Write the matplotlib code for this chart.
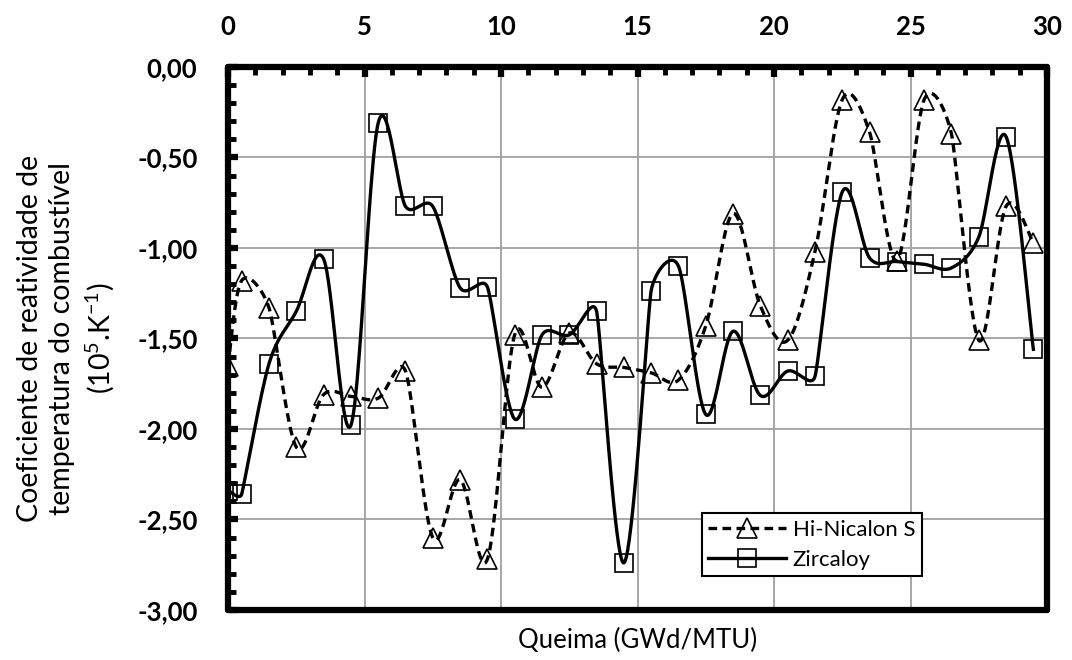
import numpy as np
import matplotlib.pyplot as plt
from matplotlib.ticker import MultipleLocator, FuncFormatter

# burnup (GWd/MTU)
burnup = [0, 0.5, 1.5, 2.5, 3.5, 4.5, 5.5, 6.5, 7.5, 8.5, 9.5, 10.5, 11.5, 12.5, 13.5,
          14.5, 15.5, 16.5, 17.5, 18.5, 19.5, 20.5, 21.5, 22.5, 23.5, 24.5, 25.5,
          26.5, 27.5, 28.5, 29.5]

hi_nicalon = [-1.65, -1.18, -1.33, -2.10, -1.81, -1.82, -1.83, -1.68, -2.60, -2.28,
              -2.72, -1.48, -1.77, -1.47, -1.64, -1.66, -1.69, -1.73, -1.43, -0.81,
              -1.32, -1.51, -1.02, -0.18, -0.36, -1.07, -0.18, -0.37, -1.51, -0.77,
              -0.97]

zircaloy = [-2.34, -2.36, -1.64, -1.35, -1.06, -1.98, -0.31, -0.77, -0.77, -1.22,
            -1.215, -1.945, -1.48, -1.48, -1.35, -2.74, -1.235, -1.10, -1.92, -1.46,
            -1.815, -1.68, -1.71, -0.69, -1.055, -1.075, -1.09, -1.11, -0.94, -0.385,
            -1.56]

FIG_W, FIG_H = 10.72, 6.6
AX_POS = [0.2127, 0.0758, 0.764, 0.8227]
XLIM = (0, 30)
YLIM = (-3, 0)


def smooth(x, y, n=40):
    # excel-like smoothed line: bezier with limited catmull-rom tangents,
    # worked out in screen space so the limits look right
    kx = FIG_W * 100 * AX_POS[2] / (XLIM[1] - XLIM[0])
    ky = FIG_H * 100 * AX_POS[3] / (YLIM[1] - YLIM[0])
    pts = np.column_stack([np.asarray(x, float) * kx, np.asarray(y, float) * ky])
    m = len(pts)
    tan = np.zeros_like(pts)
    for i in range(m):
        p0 = pts[max(i - 1, 0)]
        p2 = pts[min(i + 1, m - 1)]
        t = (p2 - p0)
        d02 = np.hypot(*t)
        if d02 == 0:
            continue
        f = 1 / 6.0
        if i > 0:
            f = min(f, np.hypot(*(pts[i] - p0)) / (2 * d02))
        if i < m - 1:
            f = min(f, np.hypot(*(p2 - pts[i])) / (2 * d02))
        tan[i] = t * f
    out = []
    s = np.linspace(0, 1, n)[:, None]
    for i in range(m - 1):
        p1, p2 = pts[i], pts[i + 1]
        c1 = p1 + tan[i]
        c2 = p2 - tan[i + 1]
        seg = (1 - s) ** 3 * p1 + 3 * (1 - s) ** 2 * s * c1 + 3 * (1 - s) * s ** 2 * c2 + s ** 3 * p2
        out.append(seg if i == 0 else seg[1:])
    out = np.vstack(out)
    return out[:, 0] / kx, out[:, 1] / ky


plt.rcParams['font.family'] = ['Lato', 'DejaVu Sans']
plt.rcParams['mathtext.fontset'] = 'custom'
plt.rcParams['mathtext.rm'] = 'Lato'

fig = plt.figure(figsize=(FIG_W, FIG_H), dpi=100)
ax = fig.add_axes(AX_POS)

dash = (0, (2.6, 1.6))
sx, sy = smooth(burnup, hi_nicalon)
ax.plot(sx, sy, color='black', lw=2.4, ls=dash, zorder=3)
ax.plot(burnup, hi_nicalon, ls='none', marker='^', ms=14, mfc='none', mec='black',
        mew=1.2, zorder=4)
sx, sy = smooth(burnup, zircaloy)
ax.plot(sx, sy, color='black', lw=2.4, zorder=3)
ax.plot(burnup, zircaloy, ls='none', marker='s', ms=13.5, mfc='none', mec='black',
        mew=1.2, zorder=4)

# legend handles
ax.plot([], [], color='black', lw=2.4, ls=dash, marker='^', ms=14,
        mfc='none', mec='black', mew=1.2, label='Hi-Nicalon S')
ax.plot([], [], color='black', lw=2.4, marker='s', ms=13.5,
        mfc='none', mec='black', mew=1.2, label='Zircaloy')

ax.set_xlim(*XLIM)
ax.set_ylim(*YLIM)
ax.xaxis.set_major_locator(MultipleLocator(5))
ax.xaxis.set_minor_locator(MultipleLocator(1))
ax.yaxis.set_major_locator(MultipleLocator(0.5))
ax.yaxis.set_minor_locator(MultipleLocator(0.1))
ax.yaxis.set_major_formatter(FuncFormatter(
    lambda v, p: ('%.2f' % (0.0 if abs(v) < 1e-9 else v)).replace('.', ',')))

ax.xaxis.tick_top()
ax.tick_params(axis='x', which='both', top=True, bottom=False, direction='in')
ax.tick_params(axis='y', which='both', left=True, right=False, direction='in')
ax.tick_params(which='major', length=7, width=4.5, labelsize=18.5)
ax.tick_params(which='minor', length=6, width=3.5)
ax.tick_params(axis='x', which='major', pad=20)
ax.tick_params(axis='y', which='major', pad=22)
for lab in ax.get_xticklabels() + ax.get_yticklabels():
    lab.set_fontweight('bold')

ax.grid(True, which='major', color='#a0a0a0', lw=1.3)
ax.set_axisbelow(True)
for s in ax.spines.values():
    s.set_linewidth(4.5)
    s.set_color('black')
    s.set_capstyle('round')

ax.set_xlabel('Queima (GWd/MTU)', fontsize=18.5, labelpad=13)
ax.set_ylabel('Coeficiente de reatividade de\ntemperatura do combustível\n(10$^5$.K$^{-1}$)',
              fontsize=20.5, linespacing=1.3)
ax.yaxis.set_label_coords(-0.136, 0.5)

leg = ax.legend(loc='upper left', bbox_to_anchor=(0.5785, 0.1786), fontsize=16,
                frameon=True, fancybox=False, handlelength=3.5, borderpad=0.3,
                labelspacing=0.45, handletextpad=0.3, borderaxespad=0)
leg.get_frame().set_edgecolor('black')
leg.get_frame().set_linewidth(1.5)
leg.get_frame().set_alpha(1)

fig.savefig('out.png', dpi=100)
